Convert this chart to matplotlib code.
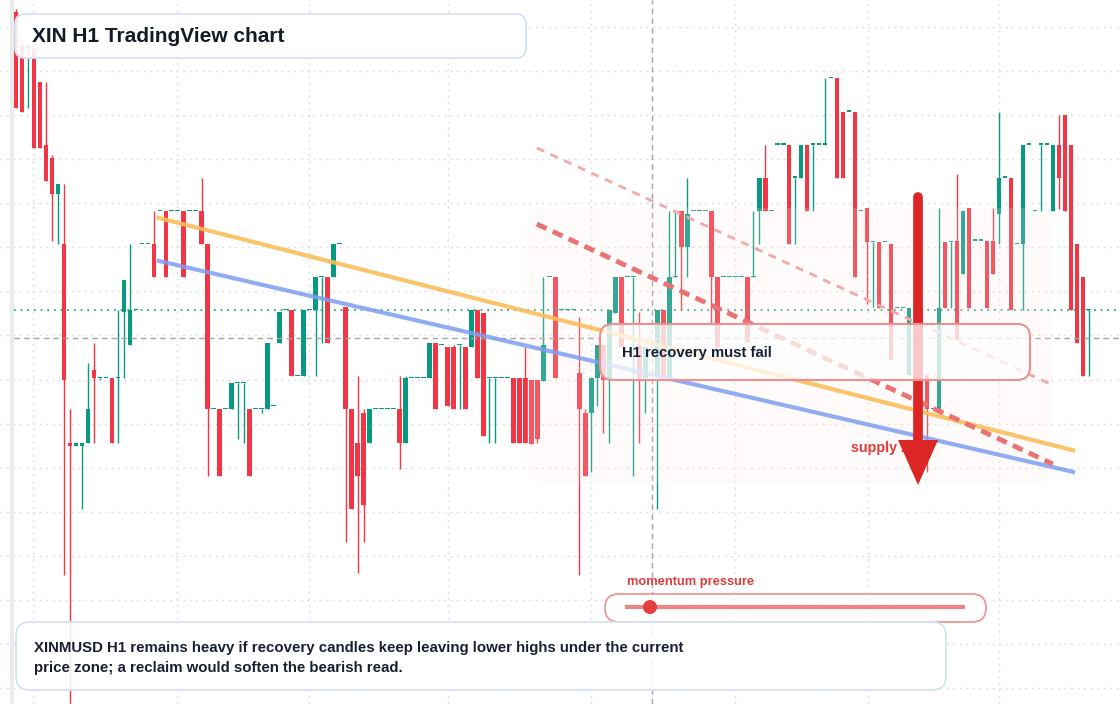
import numpy as np
import matplotlib.pyplot as plt
from matplotlib.patches import FancyBboxPatch, Polygon, Circle, Rectangle
from matplotlib.lines import Line2D
from matplotlib.transforms import Affine2D

plt.rcParams["font.family"] = ["Liberation Sans", "DejaVu Sans"]

W, H = 1120, 704
GREEN = "#089981"
RED = "#f23645"
INK = "#172033"

# %% candle data (price in ticks, read off the H1 candles)
open_ = [
    21.0, 20.0, 19.9, 19.9, 18.9, 17.0, 16.6, 15.5, 14.0, 8.0,
    7.9, 7.9, 8.0, 10.2, 9.95, 9.95, 9.95, 9.95, 11.95, 10.95,
    12.0, 14.0, 14.0, 14.0, 15.0, 15.0, 15.0, 15.0, 15.0, 15.0,
    15.0, 15.0, 14.0, 9.0, 9.0, 9.0, 9.0, 9.8, 9.8, 9.0,
    9.0, 9.0, 9.0, 9.1, 11.0, 12.0, 12.0, 10.0, 10.0, 12.0,
    12.0, 13.0, 13.0, 13.0, 14.0, 12.1, 9.0, 8.0, 8.9, 8.0,
    9.0, 9.0, 9.0, 9.0, 9.0, 8.0, 9.95, 9.95, 9.95, 9.95,
    11.0, 10.95, 10.9, 10.9, 10.95, 10.9, 10.9, 12.0, 11.9, 9.95,
    9.95, 9.95, 9.95, 9.95, 9.95, 9.95, 9.9, 9.9, 9.85, 13.0,
    13.0, 12.0, 12.0, 12.0, 10.1, 8.9, 8.9, 9.95, 10.95, 9.9,
    11.9, 13.0, 13.0, 13.0, 10.95, 9.95, 10.0, 9.95, 12.0, 9.95,
    13.0, 15.0, 13.9, 15.0, 15.0, 15.0, 15.0, 13.0, 13.0, 13.0,
    13.0, 13.0, 13.0, 13.0, 15.0, 16.0, 15.0, 17.0, 17.0, 17.0,
    16.0, 16.0, 17.0, 17.0, 17.0, 17.0, 19.0, 19.0, 18.0, 18.0,
    18.0, 15.0, 15.1, 14.05, 14.05, 14.05, 14.0, 12.05, 12.05, 10.05,
    12.05, 12.05, 10.05, 9.0, 9.0, 14.05, 14.05, 14.1, 13.1, 15.1,
    14.1, 14.1, 14.1, 14.1, 14.9, 16.0, 16.0, 14.0, 14.0, 17.0,
    15.0, 17.0, 17.0, 15.0, 17.0, 17.9, 17.0, 14.0, 13.0, 12.0,
]
close = [
    18.1, 18.0, 20.0, 16.9, 16.9, 15.9, 15.5, 15.8, 9.9, 7.9,
    8.0, 8.0, 9.0, 9.95, 9.95, 9.95, 8.0, 9.95, 12.9, 12.0,
    12.0, 14.0, 14.0, 13.0, 15.0, 13.0, 15.0, 15.0, 13.0, 15.0,
    15.0, 14.0, 9.0, 9.0, 7.0, 9.0, 9.8, 9.8, 9.8, 7.0,
    9.0, 9.0, 11.0, 9.1, 11.95, 12.0, 10.0, 10.0, 12.0, 12.0,
    13.0, 13.0, 11.0, 14.0, 14.0, 9.0, 6.0, 7.0, 6.1, 9.0,
    9.0, 9.0, 9.0, 9.0, 8.0, 9.95, 9.95, 9.95, 9.95, 11.0,
    9.0, 10.95, 9.1, 9.0, 10.95, 9.0, 12.0, 9.95, 8.2, 9.95,
    9.95, 9.95, 9.95, 8.0, 8.0, 8.0, 7.95, 8.1, 10.95, 13.0,
    9.95, 12.0, 12.0, 12.0, 9.0, 7.0, 9.95, 10.95, 9.9, 12.0,
    13.0, 10.9, 13.0, 13.0, 9.95, 10.9, 10.0, 12.0, 9.95, 13.0,
    13.0, 13.9, 14.9, 15.0, 15.0, 15.0, 13.0, 10.9, 13.0, 13.0,
    13.0, 13.0, 11.05, 13.0, 16.0, 15.0, 15.0, 17.0, 17.0, 14.0,
    16.0, 17.0, 15.0, 17.0, 17.0, 17.0, 19.0, 16.0, 16.0, 18.0,
    13.0, 15.0, 14.05, 14.05, 12.05, 14.05, 10.5, 12.05, 12.05, 12.05,
    12.05, 10.05, 9.0, 9.0, 12.05, 12.05, 14.05, 11.1, 15.0, 12.05,
    14.1, 14.1, 12.05, 13.1, 16.0, 16.0, 12.0, 14.0, 17.0, 17.0,
    15.0, 17.0, 17.0, 17.0, 16.0, 15.0, 12.0, 11.0, 10.0, 12.0,
]
high = [
    21.1, 20.0, 20.0, 19.9, 18.9, 18.9, 16.7, 15.8, 15.8, 9.0,
    8.0, 8.0, 10.4, 11.0, 9.95, 9.95, 9.95, 12.0, 12.9, 14.0,
    12.0, 14.0, 14.0, 15.0, 15.0, 15.0, 15.0, 15.0, 15.0, 15.0,
    15.0, 16.0, 14.0, 9.0, 9.0, 9.0, 9.8, 9.8, 9.8, 9.0,
    9.0, 9.0, 11.0, 9.1, 11.95, 12.0, 12.0, 10.0, 12.0, 12.0,
    13.0, 13.0, 13.0, 14.0, 14.0, 12.1, 9.0, 10.0, 9.0, 9.0,
    9.0, 9.0, 9.0, 9.0, 10.0, 10.0, 9.95, 9.95, 9.95, 11.0,
    11.0, 10.95, 10.9, 10.95, 10.95, 10.9, 12.0, 12.0, 11.9, 9.95,
    9.95, 9.95, 9.95, 9.95, 9.95, 10.9, 9.9, 9.9, 13.0, 13.0,
    13.0, 12.0, 12.0, 12.0, 11.8, 9.0, 9.95, 10.95, 10.95, 12.0,
    13.0, 13.0, 13.0, 13.0, 11.95, 10.9, 10.0, 12.0, 12.0, 15.0,
    15.0, 15.0, 16.0, 15.0, 15.0, 15.0, 15.0, 13.0, 13.0, 13.0,
    13.0, 13.0, 13.0, 15.0, 16.0, 17.0, 15.0, 17.0, 17.0, 17.0,
    16.0, 17.0, 17.0, 17.0, 17.0, 19.0, 19.0, 19.0, 18.0, 18.0,
    18.0, 15.0, 15.1, 14.05, 14.05, 14.05, 14.0, 12.05, 12.05, 12.05,
    12.05, 12.05, 10.05, 9.0, 15.1, 14.05, 14.05, 16.1, 15.0, 15.1,
    14.1, 14.1, 14.1, 15.1, 18.0, 16.0, 16.0, 14.0, 17.0, 17.0,
    15.0, 17.0, 17.0, 17.0, 17.9, 17.9, 17.0, 14.0, 13.0, 12.0,
]
low = [
    18.1, 18.0, 18.1, 16.9, 16.9, 15.9, 14.1, 14.0, 4.0, -0.2,
    7.9, 6.0, 8.0, 8.0, 9.9, 9.95, 8.0, 8.0, 9.95, 10.95,
    12.0, 14.0, 14.0, 13.0, 15.0, 13.0, 15.0, 15.0, 13.0, 15.0,
    15.0, 14.0, 7.0, 9.0, 7.0, 9.0, 9.0, 8.1, 8.0, 7.0,
    9.0, 8.9, 9.0, 9.1, 11.0, 12.0, 10.0, 10.0, 10.0, 12.0,
    10.0, 11.0, 11.0, 13.0, 14.0, 5.0, 6.0, 4.05, 5.0, 8.0,
    9.0, 9.0, 9.0, 9.0, 7.2, 8.0, 9.95, 9.95, 9.95, 9.95,
    9.0, 10.95, 9.1, 9.0, 9.0, 9.0, 10.9, 9.95, 8.2, 8.0,
    8.0, 9.95, 9.95, 8.0, 8.0, 8.0, 7.95, 8.0, 9.85, 13.0,
    9.95, 12.0, 12.0, 12.0, 4.0, 7.0, 7.1, 9.1, 8.3, 8.0,
    11.9, 10.9, 13.0, 7.0, 8.0, 8.9, 10.0, 6.0, 9.95, 9.95,
    13.0, 12.0, 13.0, 15.0, 15.0, 15.0, 11.55, 10.9, 13.0, 13.0,
    13.0, 13.0, 11.05, 13.0, 14.0, 15.0, 15.0, 17.0, 17.0, 14.0,
    14.0, 16.0, 15.0, 15.0, 17.0, 17.0, 19.0, 16.0, 16.0, 18.0,
    13.0, 15.0, 12.2, 12.1, 12.05, 14.05, 10.5, 12.05, 12.05, 10.05,
    12.05, 10.05, 7.1, 9.0, 9.0, 12.05, 12.05, 11.1, 13.1, 12.05,
    14.1, 14.1, 12.05, 13.1, 14.0, 16.0, 12.0, 14.0, 12.0, 17.0,
    15.0, 15.0, 17.0, 15.0, 15.05, 15.0, 12.0, 11.0, 10.0, 10.0,
]

# drawn levels / trend lines (candle index, price)
crosshair_x, crosshair_y = 106.06, 11.15
orange_trend = ([23.5, 176.7], [14.8, 7.75])
blue_trend = ([23.5, 176.7], [13.5, 7.1])
red_trend = ([86.9, 173.0], [14.6, 7.35])
red_trend_faint = ([86.9, 172.8], [16.9, 9.75])
day_lines = [2.84, 26.86, 48.88, 72.07, 95.93, 119.95, 142.14, 164.0]

title = "XIN H1 TradingView chart"
note = ["XINMUSD H1 remains heavy if recovery candles keep leaving lower highs under the current",
        "price zone; a reclaim would soften the bearish read."]
callout = "H1 recovery must fail"
zone_label = "supply zone"
meter_label = "momentum pressure"

# %% figure
fig = plt.figure(figsize=(W / 100, H / 100), dpi=100)
ax = fig.add_axes([0, 0, 1, 1])
ax.set_xlim(-2.67, 184.2)
ax.set_ylim(0.1, 21.37)
ax.axis("off")

# pixel coordinates, y pointing down
pix = Affine2D().scale(1 / W, -1 / H).translate(0, 1) + fig.transFigure

grid_kw = dict(color="#dadada", lw=1, ls=(0, (1.2, 3.5)), zorder=0)
for gy in np.arange(0.58, 21.4, 1.332):
    ax.axhline(gy, **grid_kw)
for gx in day_lines:
    ax.axvline(gx, **grid_kw)

ax.add_patch(Rectangle((10, 0), 3.5, H, transform=pix, color="#ebebeb", lw=0, zorder=1))

# candles
o, c, hi, lo = map(np.asarray, (open_, close, high, low))
x = np.arange(len(o))
cols = np.where(c >= o, GREEN, RED)
ax.vlines(x, lo, hi, colors=cols, lw=1, zorder=2)
ax.bar(x, np.maximum(np.abs(c - o), 0.04), bottom=np.minimum(o, c), width=0.78,
       color=cols, lw=0, zorder=3)

# last price + crosshair
ax.axhline(c[-1], xmin=14 / W, color=GREEN, lw=1.2, ls=(0, (1, 3)), zorder=3.5)
ax.axhline(crosshair_y, xmin=14 / W, color="#a3a3a3", lw=1, ls=(0, (4, 3)), zorder=3.5)
ax.axvline(crosshair_x, color="#a3a3a3", lw=1, ls=(0, (4, 3)), zorder=3.5)

# supply zone shading
ax.add_patch(FancyBboxPatch((527, 208), 525, 275, boxstyle="round,pad=0,rounding_size=18",
                            transform=pix, fc="#fbeee4", ec="none", alpha=0.18, zorder=4))

# trend lines
ax.plot(*orange_trend, color="#fbbd5a", lw=3, alpha=0.9, solid_capstyle="butt", zorder=5)
ax.plot(*blue_trend, color="#7d9ff2", lw=3, alpha=0.85, solid_capstyle="butt", zorder=5)
ax.plot(*red_trend, color="#ea7272", lw=3.5, ls=(0, (2.2, 1.4)), zorder=5)
ax.plot(*red_trend_faint, color="#f4a8a8", lw=2, ls=(0, (2.9, 2.5)), zorder=5)

ax.text(851, 448, zone_label, transform=pix, color="#e03a3a", fontsize=10.3,
        fontweight="bold", va="center", zorder=5.5)

# down arrow
ax.add_line(Line2D([918, 918], [197, 445], transform=pix, color="#dc2626", lw=7,
                   solid_capstyle="round", zorder=6))
ax.add_patch(Polygon([[898, 440], [938, 440], [918, 485]], closed=True, transform=pix,
                     fc="#dc2626", ec="none", zorder=6))

# callout box
ax.add_patch(FancyBboxPatch((600, 324), 430, 56, boxstyle="round,pad=0,rounding_size=13",
                            transform=pix, fc="white", alpha=0.75, ec="none", zorder=7))
ax.add_patch(FancyBboxPatch((600, 324), 430, 56, boxstyle="round,pad=0,rounding_size=13",
                            transform=pix, fc="none", ec="#ee9090", lw=1.5, zorder=7))
ax.text(622, 353, callout, transform=pix, color=INK, fontsize=10.7, fontweight="bold",
        va="center", zorder=8)

# title box
ax.add_patch(FancyBboxPatch((15, 14), 511, 44, boxstyle="round,pad=0,rounding_size=10",
                            transform=pix, fc="white", alpha=0.9, ec="none", zorder=8))
ax.add_patch(FancyBboxPatch((15, 14), 511, 44, boxstyle="round,pad=0,rounding_size=10",
                            transform=pix, fc="none", ec="#d5e3f7", lw=1.3, zorder=8))
ax.text(32, 36, title, transform=pix, color="#131b28", fontsize=15, fontweight="bold",
        va="center", zorder=9)

# momentum meter
ax.text(627, 582, meter_label, transform=pix, color="#e03c3c", fontsize=9.3,
        fontweight="bold", va="center", zorder=9)
ax.add_patch(FancyBboxPatch((605, 594), 381, 28, boxstyle="round,pad=0,rounding_size=14",
                            transform=pix, fc="white", alpha=0.85, ec="none", zorder=8))
ax.add_patch(FancyBboxPatch((605, 594), 381, 28, boxstyle="round,pad=0,rounding_size=14",
                            transform=pix, fc="none", ec="#ef8e8e", lw=1.2, zorder=8))
ax.add_line(Line2D([627, 963], [607, 607], transform=pix, color="#ee8585", lw=3, zorder=9))
ax.add_patch(Circle((650, 607), 7, transform=pix, fc="#e53e3e", ec="none", zorder=9))

# bottom note
ax.add_patch(FancyBboxPatch((16, 622), 930, 68, boxstyle="round,pad=0,rounding_size=14",
                            transform=pix, fc="white", alpha=0.88, ec="none", zorder=8))
ax.add_patch(FancyBboxPatch((16, 622), 930, 68, boxstyle="round,pad=0,rounding_size=14",
                            transform=pix, fc="none", ec="#d5e3f7", lw=1.3, zorder=8))
for k, line in enumerate(note):
    ax.text(34, 648 + 20 * k, line, transform=pix, color=INK, fontsize=10.8,
            fontweight="bold", va="center", zorder=9)

fig.savefig("out.png", dpi=100)
